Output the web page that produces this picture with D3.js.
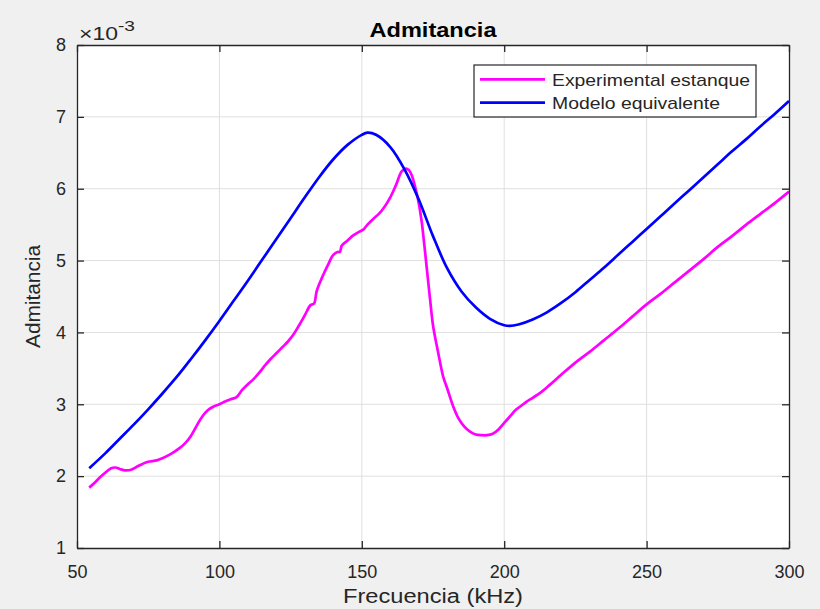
<!DOCTYPE html>
<html>
<head>
<meta charset="utf-8">
<script src="https://cdn.jsdelivr.net/npm/d3@7"></script>
<style>
  html, body { margin: 0; padding: 0; background: #f0f0f0; }
  svg { display: block; font-family: Arial, "Liberation Sans", Helvetica, sans-serif; }
</style>
</head>
<body>
<svg id="chart" width="820" height="609"></svg>
<script>
// Frequency (kHz) and admittance (×10^-3) of the measured tank response
const expFreq = [54.3, 56, 58, 60, 62, 63.5, 65, 67, 69, 71, 73, 75, 78, 80, 83, 86, 88, 90, 92, 94, 96, 98, 100,
  102, 104, 106, 108, 110, 112, 114, 116, 118, 120, 122, 124, 126, 128, 130, 132, 133.2, 134.2, 136, 138, 140,
  141.5, 142.3, 143, 145, 147, 149, 150.5, 152, 154, 156, 158, 160, 162, 164, 165.5, 166.5, 167.5, 168.7, 169.8,
  171, 172, 172.8, 174, 175, 176.3, 177.5, 178.6, 180, 182, 184, 186, 188, 190, 192, 194, 196, 198, 200, 202,
  204, 206, 208, 210, 213, 216, 220, 225, 230, 235, 240, 245, 250, 255, 260, 265, 270, 275, 280, 285, 290, 295, 300];
const expAdm = [1.84, 1.90, 1.98, 2.05, 2.11, 2.12, 2.10, 2.08, 2.09, 2.13, 2.17, 2.20, 2.22, 2.25, 2.31, 2.39, 2.46,
  2.56, 2.70, 2.83, 2.92, 2.97, 3.00, 3.04, 3.07, 3.10, 3.20, 3.28, 3.35, 3.44, 3.54, 3.63, 3.71, 3.79, 3.87, 3.97,
  4.10, 4.24, 4.38, 4.40, 4.58, 4.76, 4.93, 5.08, 5.12, 5.12, 5.21, 5.28, 5.35, 5.40, 5.43, 5.50, 5.58, 5.65, 5.75,
  5.88, 6.05, 6.24, 6.28, 6.26, 6.19, 6.03, 5.84, 5.55, 5.20, 4.90, 4.45, 4.10, 3.82, 3.58, 3.38, 3.22, 2.98, 2.80,
  2.69, 2.62, 2.58, 2.57, 2.57, 2.59, 2.65, 2.74, 2.83, 2.92, 2.98, 3.04, 3.09, 3.17, 3.27, 3.41, 3.58, 3.73, 3.89,
  4.05, 4.22, 4.39, 4.54, 4.70, 4.86, 5.02, 5.19, 5.34, 5.50, 5.65, 5.80, 5.96];

// Equivalent circuit model
const modFreq = [54.3, 60, 65, 70, 75, 80, 85, 90, 95, 100, 105, 110, 115, 120, 125, 130, 135, 140, 145, 150, 152,
  155, 160, 165, 170, 175, 180, 185, 190, 195, 200, 202, 205, 210, 215, 220, 225, 230, 235, 240, 245, 250, 255,
  260, 265, 270, 275, 280, 285, 290, 295, 300];
const modAdm = [2.11, 2.32, 2.52, 2.72, 2.93, 3.15, 3.38, 3.63, 3.89, 4.16, 4.44, 4.72, 5.01, 5.30, 5.59, 5.88,
  6.16, 6.41, 6.61, 6.75, 6.78, 6.75, 6.58, 6.27, 5.85, 5.34, 4.89, 4.57, 4.35, 4.19, 4.10, 4.09, 4.11, 4.18,
  4.28, 4.41, 4.56, 4.73, 4.90, 5.08, 5.26, 5.44, 5.62, 5.80, 5.98, 6.16, 6.34, 6.52, 6.69, 6.87, 7.04, 7.22];

const xTicks = [50, 100, 150, 200, 250, 300];
const yTicks = [1, 2, 3, 4, 5, 6, 7, 8];
const seriesNames = ["Experimental estanque", "Modelo equivalente"];
const seriesColors = ["#ff00ff", "#0000ff"];

const svg = d3.select("#chart");
const W = 820, H = 609;
const m = { left: 77, right: 31, top: 45, bottom: 61 };
const iw = W - m.left - m.right, ih = H - m.top - m.bottom;
const axisColor = "#262626";

svg.append("rect").attr("width", W).attr("height", H).attr("fill", "#f0f0f0");

const x = d3.scaleLinear().domain([50, 300]).range([m.left, m.left + iw]);
const y = d3.scaleLinear().domain([1, 8]).range([m.top + ih, m.top]);

const g = svg.append("g");
g.append("rect").attr("x", m.left).attr("y", m.top).attr("width", iw).attr("height", ih).attr("fill", "#fff");

// grid
g.append("g").selectAll("line").data(xTicks.slice(1, -1)).join("line")
  .attr("x1", d => x(d)).attr("x2", d => x(d)).attr("y1", m.top).attr("y2", m.top + ih)
  .attr("stroke", "#dfdfdf").attr("stroke-width", 1);
g.append("g").selectAll("line").data(yTicks.slice(1, -1)).join("line")
  .attr("y1", d => y(d)).attr("y2", d => y(d)).attr("x1", m.left).attr("x2", m.left + iw)
  .attr("stroke", "#dfdfdf").attr("stroke-width", 1);

// curves
const line = d3.line().x(d => x(d[0])).y(d => y(d[1])).curve(d3.curveCatmullRom.alpha(0.5));
const series = [d3.zip(expFreq, expAdm), d3.zip(modFreq, modAdm)];
series.forEach((s, i) => {
  g.append("path").datum(s).attr("d", line).attr("fill", "none")
    .attr("stroke", seriesColors[i]).attr("stroke-width", 2.7).attr("stroke-linejoin", "round");
});

// axes with inward ticks on all four sides
const tickLen = 7;
const fmt = d3.format("d");
const axBottom = g.append("g").attr("transform", `translate(0,${m.top + ih})`)
  .call(d3.axisBottom(x).tickValues(xTicks).tickFormat(fmt).tickSizeInner(-tickLen).tickSizeOuter(0).tickPadding(17));
const axTop = g.append("g").attr("transform", `translate(0,${m.top})`)
  .call(d3.axisTop(x).tickValues(xTicks).tickFormat("").tickSizeInner(-tickLen).tickSizeOuter(0));
const axLeft = g.append("g").attr("transform", `translate(${m.left},0)`)
  .call(d3.axisLeft(y).tickValues(yTicks).tickFormat(fmt).tickSizeInner(-tickLen).tickSizeOuter(0).tickPadding(11));
const axRight = g.append("g").attr("transform", `translate(${m.left + iw},0)`)
  .call(d3.axisRight(y).tickValues(yTicks).tickFormat("").tickSizeInner(-tickLen).tickSizeOuter(0));
[axBottom, axTop, axLeft, axRight].forEach(a => {
  a.select(".domain").attr("stroke", axisColor).attr("stroke-width", 1.3);
  a.selectAll(".tick line").attr("stroke", axisColor).attr("stroke-width", 1.3);
  a.selectAll(".tick text").attr("fill", axisColor).attr("font-size", 18).attr("font-family", "Arial, 'Liberation Sans', sans-serif");
});

// exponent marker
const ex = svg.append("text").attr("x", m.left + 2).attr("y", 40).attr("fill", axisColor)
  .attr("font-size", 18).attr("textLength", 56).attr("lengthAdjust", "spacingAndGlyphs");
ex.append("tspan").text("×10");
ex.append("tspan").attr("dy", -9).attr("font-size", 15).text("-3");

// title and labels
svg.append("text").attr("x", m.left + iw / 2).attr("y", 37).attr("text-anchor", "middle")
  .attr("font-size", 21).attr("font-weight", "bold").attr("fill", "#000")
  .attr("textLength", 127).attr("lengthAdjust", "spacingAndGlyphs").text("Admitancia");
svg.append("text").attr("x", m.left + iw / 2).attr("y", 603).attr("text-anchor", "middle")
  .attr("font-size", 20).attr("fill", axisColor)
  .attr("textLength", 180).attr("lengthAdjust", "spacingAndGlyphs").text("Frecuencia (kHz)");
svg.append("text").attr("transform", `translate(40,${m.top + ih / 2}) rotate(-90)`).attr("text-anchor", "middle")
  .attr("font-size", 20).attr("fill", axisColor)
  .attr("textLength", 103).attr("lengthAdjust", "spacingAndGlyphs").text("Admitancia");

// legend
const legendWidths = [198, 168];
const lg = svg.append("g").attr("transform", "translate(474,65)");
lg.append("rect").attr("width", 282).attr("height", 52).attr("fill", "#fff")
  .attr("stroke", axisColor).attr("stroke-width", 1.2);
seriesNames.forEach((name, i) => {
  const cy = 14.3 + i * 23.4;
  lg.append("line").attr("x1", 6).attr("x2", 71).attr("y1", cy).attr("y2", cy)
    .attr("stroke", seriesColors[i]).attr("stroke-width", 2.7);
  lg.append("text").attr("x", 78).attr("y", cy + 6.5).attr("font-size", 17).attr("fill", axisColor)
    .attr("textLength", legendWidths[i]).attr("lengthAdjust", "spacingAndGlyphs").text(name);
});
</script>
</body>
</html>
